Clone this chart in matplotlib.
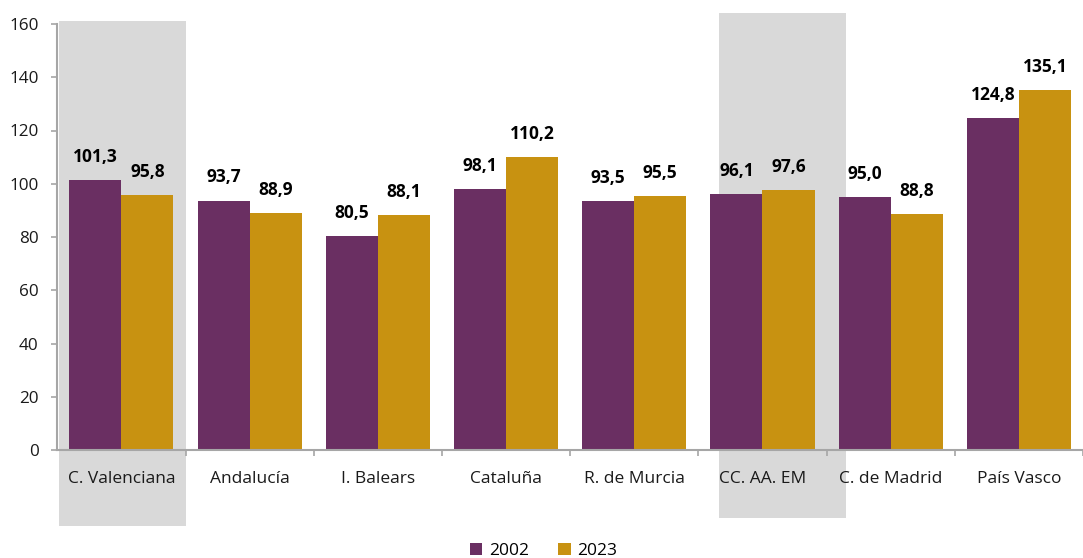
import numpy as np
import matplotlib.pyplot as plt
from matplotlib.patches import Rectangle

plt.rcParams['font.family'] = ['Open Sans', 'DejaVu Sans']

regions = ['C. Valenciana', 'Andalucía', 'I. Balears', 'Cataluña',
           'R. de Murcia', 'CC. AA. EM', 'C. de Madrid', 'País Vasco']
vals_2002 = [101.3, 93.7, 80.5, 98.1, 93.5, 96.1, 95.0, 124.8]
vals_2023 = [95.8, 88.9, 88.1, 110.2, 95.5, 97.6, 88.8, 135.1]
years = ['2002', '2023']

purple = '#6A2F62'
gold = '#C89211'
grey_box = '#D9D9D9'
axis_grey = '#A6A6A6'

W, H = 1083, 558
fig = plt.figure(figsize=(W / 100, H / 100), dpi=100)
ax = fig.add_axes([57.3 / W, 108 / H, 1 - 57.3 / W, 426 / H])
ax.patch.set_visible(False)

# grey highlight boxes (pixel positions from the reference, behind the axes)
for x0, x1, ytop, ybot in [(59, 186, 21, 526), (719, 846, 13, 518)]:
    fig.patches.append(Rectangle((x0 / W, 1 - ybot / H), (x1 - x0) / W, (ybot - ytop) / H,
                                 transform=fig.transFigure, facecolor=grey_box,
                                 edgecolor='none', zorder=-1))

x = np.arange(len(regions))
bw = 0.406
b1 = ax.bar(x - bw / 2, vals_2002, bw, color=purple, label=years[0])
b2 = ax.bar(x + bw / 2, vals_2023, bw, color=gold, label=years[1])

for bars, vals in [(b1, vals_2002), (b2, vals_2023)]:
    for rect, v in zip(bars, vals):
        ax.annotate(f"{v:.1f}".replace('.', ','),
                    (rect.get_x() + rect.get_width() / 2, v),
                    xytext=(0, 13), textcoords='offset points',
                    ha='center', va='baseline', fontsize=12.5, fontweight='bold',
                    color='black')

ax.set_ylim(0, 160)
ax.set_xlim(-0.5, -0.5 + (W - 57.3) / 129.3)
ax.set_yticks(np.arange(0, 161, 20))

ax.set_xticks(x)
ax.set_xticklabels(regions)
ax.set_xticks(np.arange(0.5, len(regions), 1), minor=True)
ax.tick_params(axis='x', which='major', length=0, pad=15, labelsize=12.5, colors='#1a1a1a')
ax.tick_params(axis='x', which='minor', length=4, width=1.2, color=axis_grey)
ax.tick_params(axis='y', length=4.5, width=1.2, color=axis_grey, pad=9,
               labelsize=12.3, labelcolor='#1a1a1a')

for s in ['top', 'right']:
    ax.spines[s].set_visible(False)
for s in ['left', 'bottom']:
    ax.spines[s].set_color(axis_grey)
    ax.spines[s].set_linewidth(1.5)

fig.legend(handles=[b1, b2], labels=years, loc='lower center',
           bbox_to_anchor=(0.502, -0.03), ncol=2, frameon=False,
           fontsize=12.5, handlelength=0.7, handleheight=0.7,
           handletextpad=0.4, columnspacing=1.7)

fig.savefig('out.png', dpi=100)
